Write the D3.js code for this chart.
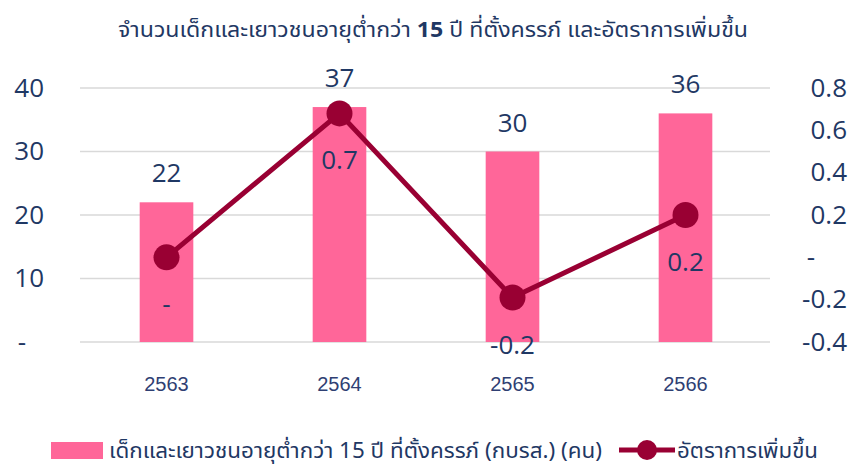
<!DOCTYPE html>
<html>
<head>
<meta charset="utf-8">
<script src="https://cdn.jsdelivr.net/npm/d3@7"></script>
<style>
  body { margin: 0; background: #fff; }
  svg { font-family: "Noto Sans", "Noto Sans Thai", sans-serif; }
</style>
</head>
<body>
<div id="chart"></div>
<script>
// data
var years = ["2563", "2564", "2565", "2566"];
var pregnant = [22, 37, 30, 36];            // bars, left axis (คน)
var growth = [0, 0.68, -0.19, 0.2];         // line, right axis
var leftTicks = [0, 10, 20, 30, 40];
var rightTicks = [-0.4, -0.2, 0, 0.2, 0.4, 0.6, 0.8];

var W = 853, H = 465;
var navy = "#1F3864", pink = "#FF6699", wine = "#990033", grid = "#D9D9D9";
var numFont = "'Open Sans', sans-serif";

// plain hyphen for negatives, dash for zero
function dec(d){
  if (Math.abs(d) < 0.05) return "-";
  return d3.format(".1f")(d).replace("\u2212", "-");
}

var svg = d3.select("#chart").append("svg").attr("width", W).attr("height", H);

var x = d3.scaleBand().domain(years).range([80, 772])
          .paddingInner(0.69).paddingOuter(0.345);
var yL = d3.scaleLinear().domain([0, 40]).range([342, 88]);
var yR = d3.scaleLinear().domain([-0.4, 0.8]).range([342, 88]);

// title
var tt = svg.append("text").attr("x", 118).attr("y", 37)
   .attr("textLength", 630).attr("lengthAdjust", "spacingAndGlyphs")
   .attr("fill", navy).style("font-size", "22px");
tt.append("tspan").text("จำนวนเด็กและเยาวชนอายุต่ำกว่า ");
tt.append("tspan").style("font-weight", "bold").style("font-family", numFont).text("15");
tt.append("tspan").text(" ปี ที่ตั้งครรภ์ และอัตราการเพิ่มขึ้น");

// gridlines
svg.append("g").selectAll("line").data(leftTicks).enter().append("line")
   .attr("x1", 80).attr("x2", 770)
   .attr("y1", function(d){ return yL(d); }).attr("y2", function(d){ return yL(d); })
   .attr("stroke", grid).attr("stroke-width", 1.5);

// left axis
var gl = svg.append("g").attr("transform", "translate(44,0)")
   .call(d3.axisLeft(yL).tickValues(leftTicks).tickSize(0).tickPadding(0)
   .tickFormat(function(d){ return d === 0 ? "-" : d; }));
gl.select(".domain").remove();
gl.selectAll("text").attr("fill", navy).style("font-size", "26px").style("font-family", numFont);
gl.selectAll(".tick").filter(function(d){ return d === 0; }).select("text")
  .attr("text-anchor", "middle").attr("x", -22);

// right axis
var gr = svg.append("g").attr("transform", "translate(847,0)")
   .call(d3.axisLeft(yR).tickValues(rightTicks).tickSize(0).tickPadding(0).tickFormat(dec));
gr.select(".domain").remove();
gr.selectAll("text").attr("fill", navy).style("font-size", "26px").style("font-family", numFont);
gr.selectAll(".tick").filter(function(d){ return Math.abs(d) < 1e-9; }).select("text")
  .attr("text-anchor", "middle").attr("x", -36);

// bars
svg.append("g").selectAll("rect").data(pregnant).enter().append("rect")
   .attr("x", function(d, i){ return x(years[i]); })
   .attr("width", x.bandwidth())
   .attr("y", function(d){ return yL(d); })
   .attr("height", function(d){ return yL(0) - yL(d); })
   .attr("fill", pink);

// bar labels
svg.append("g").selectAll("text").data(pregnant).enter().append("text")
   .attr("x", function(d, i){ return x(years[i]) + x.bandwidth() / 2; })
   .attr("y", function(d){ return yL(d) - 20; })
   .attr("text-anchor", "middle").attr("fill", navy)
   .style("font-size", "26px").style("font-family", numFont)
   .text(function(d){ return d; });

// category labels
svg.append("g").selectAll("text").data(years).enter().append("text")
   .attr("x", function(d){ return x(d) + x.bandwidth() / 2; })
   .attr("y", 391).attr("text-anchor", "middle").attr("fill", "#2F3F73")
   .style("font-size", "20px").style("font-family", "'Liberation Sans', Arial, sans-serif")
   .text(function(d){ return d; });

// line
var cx = function(d, i){ return x(years[i]) + x.bandwidth() / 2; };
var line = d3.line().x(cx).y(function(d){ return yR(d); });
svg.append("path").datum(growth).attr("d", line)
   .attr("fill", "none").attr("stroke", wine).attr("stroke-width", 5)
   .attr("stroke-linejoin", "round");
svg.append("g").selectAll("circle").data(growth).enter().append("circle")
   .attr("cx", cx).attr("cy", function(d){ return yR(d); }).attr("r", 13)
   .attr("fill", wine);

// line labels
svg.append("g").selectAll("text").data(growth).enter().append("text")
   .attr("x", cx).attr("y", function(d){ return yR(d) + 56; })
   .attr("text-anchor", "middle").attr("fill", navy)
   .style("font-size", "26px").style("font-family", numFont)
   .text(dec);

// legend
var lg = svg.append("g");
lg.append("rect").attr("x", 51).attr("y", 442).attr("width", 52).attr("height", 17).attr("fill", pink);
lg.append("text").attr("x", 109).attr("y", 458).attr("fill", navy).style("font-size", "21px")
  .attr("textLength", 493).attr("lengthAdjust", "spacingAndGlyphs")
  .text("เด็กและเยาวชนอายุต่ำกว่า 15 ปี ที่ตั้งครรภ์ (กบรส.) (คน)");
lg.append("line").attr("x1", 619).attr("x2", 675).attr("y1", 450).attr("y2", 450)
  .attr("stroke", wine).attr("stroke-width", 5);
lg.append("circle").attr("cx", 647).attr("cy", 450).attr("r", 10).attr("fill", wine);
lg.append("text").attr("x", 677).attr("y", 458).attr("fill", navy).style("font-size", "21px")
  .attr("textLength", 141).attr("lengthAdjust", "spacingAndGlyphs")
  .text("อัตราการเพิ่มขึ้น");
</script>
</body>
</html>
